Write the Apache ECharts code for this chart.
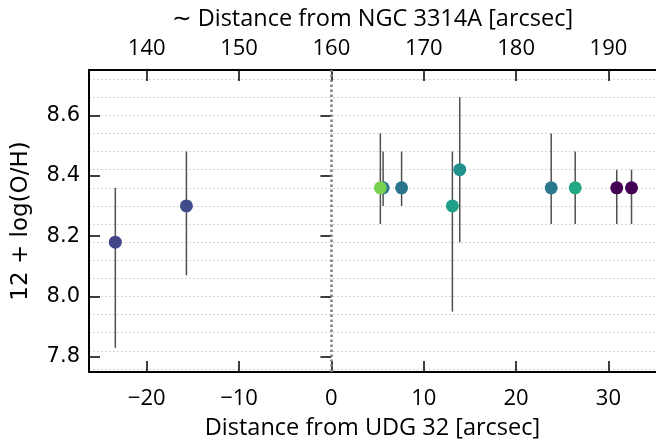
<!DOCTYPE html>
<html>
<head>
<meta charset="utf-8">
<script src="https://cdn.jsdelivr.net/npm/echarts@6/dist/echarts.min.js"></script>
<style>
  html, body { margin: 0; padding: 0; background: #ffffff; }
  #chart { width: 656px; height: 446px; }
</style>
</head>
<body>
<div id="chart"></div>
<script>
// Offsets from UDG 32 (arcsec) and oxygen abundance with its lower / upper bounds
const offsets   = [-23.4, -15.7, 5.6, 5.3, 7.6, 13.1, 13.9, 23.8, 26.4, 30.9, 32.5];
const abundance = [8.18, 8.30, 8.36, 8.36, 8.36, 8.30, 8.42, 8.36, 8.36, 8.36, 8.36];
const lowerBnd  = [7.83, 8.07, 8.30, 8.24, 8.30, 7.95, 8.18, 8.24, 8.24, 8.24, 8.24];
const upperBnd  = [8.36, 8.48, 8.48, 8.54, 8.48, 8.48, 8.66, 8.54, 8.48, 8.42, 8.42];
const pointColors = ['#414487', '#3e4c8a', '#2a788e', '#7ad151', '#2c738e', '#1f9e89',
                     '#21918c', '#2a788e', '#22a884', '#440154', '#440154'];

// Axis ticks
const bottomTicks = [-20, -10, 0, 10, 20, 30];
const topTicks    = [140, 150, 160, 170, 180, 190];
const yTicks      = [7.8, 8.0, 8.2, 8.4, 8.6];
const gridLevels  = [7.76, 7.82, 7.88, 7.94, 8.00, 8.06, 8.12, 8.18, 8.24, 8.30,
                     8.36, 8.42, 8.48, 8.54, 8.60, 8.66, 8.72];
const topOffset   = 160;   // NGC 3314A distance = UDG 32 distance + 160

const xMin = -26.25, xMax = 35.15, yMin = 7.75, yMax = 8.75;
const sansX = '"Open Sans", "DejaVu Sans", sans-serif';
const sansY = '"DejaVu Sans", sans-serif';
const minus = v => String(v).replace('-', '\u2212');

const chart = echarts.init(document.getElementById('chart'), null, { renderer: 'canvas' });

const tickStyle = { show: true, inside: true, length: 11, lineStyle: { color: '#000', width: 1.5 } };
const frameLine = { show: true, onZero: false, lineStyle: { color: '#000', width: 2 } };

chart.setOption({
  animation: false,
  backgroundColor: '#ffffff',
  grid: { left: 89, top: 70, width: 568, height: 302, containLabel: false },
  xAxis: [
    {
      type: 'value', position: 'bottom', min: xMin, max: xMax,
      axisLine: frameLine,
      axisTick: Object.assign({}, tickStyle, { customValues: bottomTicks }),
      axisLabel: { customValues: bottomTicks, formatter: minus, color: '#000',
                   fontFamily: sansX, fontSize: 22, margin: 16 },
      splitLine: { show: false },
      name: 'Distance from UDG 32 [arcsec]', nameLocation: 'middle', nameGap: 44,
      nameTextStyle: { color: '#000', fontFamily: sansX, fontSize: 23.5 }
    },
    {
      type: 'value', position: 'top', min: xMin + topOffset, max: xMax + topOffset,
      axisLine: frameLine,
      axisTick: Object.assign({}, tickStyle, { customValues: topTicks }),
      axisLabel: { customValues: topTicks, color: '#000', fontFamily: sansX, fontSize: 22, margin: 10 },
      splitLine: { show: false },
      name: '\u223C Distance from NGC 3314A [arcsec]', nameLocation: 'middle', nameGap: 39,
      nameTextStyle: { color: '#000', fontFamily: sansX, fontSize: 23.5 }
    }
  ],
  yAxis: [
    {
      type: 'value', position: 'left', min: yMin, max: yMax,
      axisLine: frameLine,
      axisTick: Object.assign({}, tickStyle, { customValues: yTicks }),
      axisLabel: { customValues: yTicks, formatter: v => v.toFixed(1), color: '#000',
                   fontFamily: sansY, fontSize: 21, margin: 9 },
      splitLine: { show: false },
      name: '12 + log(O/H)', nameLocation: 'middle', nameGap: 56, nameRotate: 90,
      nameTextStyle: { color: '#000', fontFamily: sansY, fontSize: 23 }
    },
    {
      // right frame sits just past the canvas edge; only its ticks are seen
      type: 'value', position: 'right', min: yMin, max: yMax,
      axisLine: { show: false },
      axisTick: Object.assign({}, tickStyle, { customValues: yTicks }),
      axisLabel: { show: false },
      splitLine: { show: false }
    },
    {
      type: 'value', position: 'right', min: yMin, max: yMax,
      axisLine: { show: false },
      axisTick: { show: false, customValues: gridLevels },
      axisLabel: { show: false },
      splitLine: { show: true, lineStyle: { color: '#c8c8c8', width: 1, type: [1.5, 2.5] } }
    }
  ],
  series: [
    {
      // vertical reference at the position of UDG 32
      type: 'line', data: [], silent: true, z: 1,
      markLine: {
        silent: true, symbol: 'none', label: { show: false },
        lineStyle: { color: '#808080', width: 2.5, type: [2.5, 2.5] },
        data: [{ xAxis: 0 }]
      }
    },
    {
      // error bars
      type: 'custom', z: 2, silent: true,
      data: offsets.map((x, i) => [x, lowerBnd[i], upperBnd[i]]),
      encode: { x: 0, y: [1, 2] },
      renderItem: (params, api) => {
        const p0 = api.coord([api.value(0), api.value(1)]);
        const p1 = api.coord([api.value(0), api.value(2)]);
        return {
          type: 'line',
          shape: { x1: p0[0], y1: p0[1], x2: p1[0], y2: p1[1] },
          style: { stroke: '#505050', lineWidth: 1.5 }
        };
      }
    },
    {
      type: 'scatter', z: 3, symbol: 'circle', symbolSize: 13,
      data: offsets.map((x, i) => ({ value: [x, abundance[i]], itemStyle: { color: pointColors[i], opacity: 1 } }))
    }
  ]
});
</script>
</body>
</html>
